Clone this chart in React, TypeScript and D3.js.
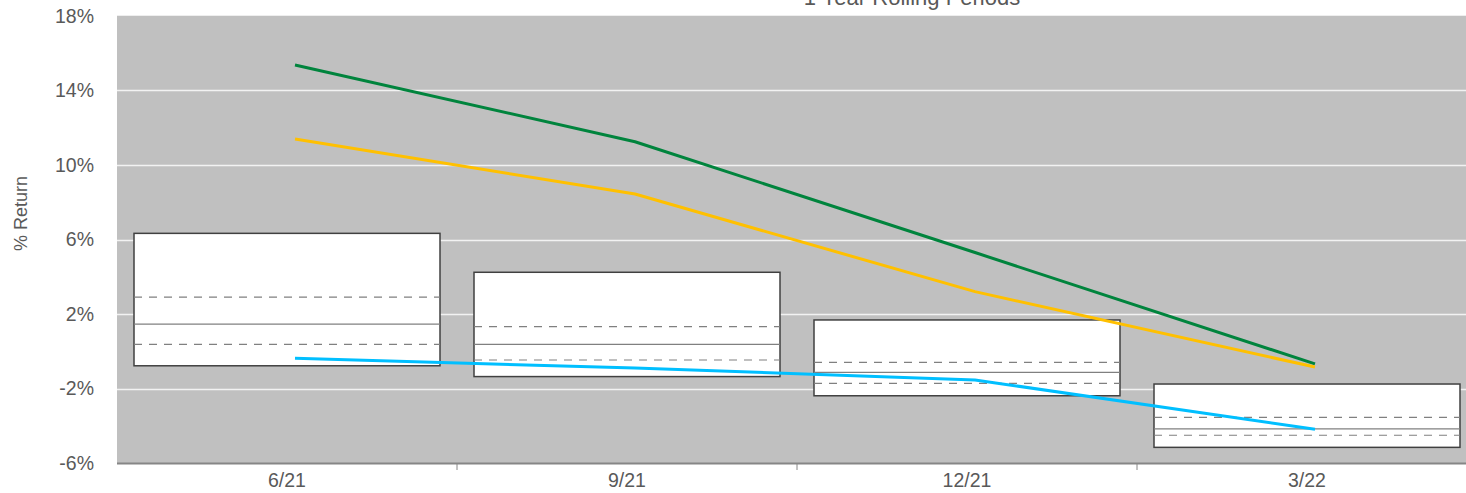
import React from "react";
import * as d3 from "d3";

const categories = ["6/21", "9/21", "12/21", "3/22"];
const yTicks = [-6, -2, 2, 6, 10, 14, 18];

// box ranges (percent)
const boxTop = [6.33, 4.24, 1.68, -1.76];
const boxUpperQ = [2.91, 1.32, -0.6, -3.55];
const boxMedian = [1.46, 0.37, -1.13, -4.17];
const boxLowerQ = [0.37, -0.47, -1.72, -4.51];
const boxBottom = [-0.78, -1.36, -2.39, -5.16];

// series
const greenSeries = [15.37, 11.25, 5.3, -0.68];
const orangeSeries = [11.4, 8.44, 3.2, -0.85];
const cyanSeries = [-0.38, -0.9, -1.54, -4.19];

const title = "1 Year Rolling Periods";
const yTitle = "% Return";

const W = 1466;
const H = 493;
const FONT = "'Liberation Sans', Arial, Helvetica, sans-serif";

export default function App() {
  const left = 117;
  const top = 16;
  const bottom = 463;
  const x = d3
    .scaleBand<string>()
    .domain(categories)
    .range([left, left + 1360])
    .paddingInner(0.1)
    .paddingOuter(0.05);
  const step = x.step();
  const y = d3.scaleLinear().domain([-6, 18]).range([bottom, top]);
  const lineOffset = 8;
  const cx = (c: string) => (x(c) as number) + x.bandwidth() / 2;
  const line = d3
    .line<number>()
    .x((_, i) => cx(categories[i]) + lineOffset)
    .y((d) => y(d));

  const series = [
    { vals: greenSeries, color: "#00843D" },
    { vals: orangeSeries, color: "#FFC000" },
    { vals: cyanSeries, color: "#00BFFF" },
  ];

  return (
    <svg
      width={W}
      height={H}
      style={{ position: "absolute", left: 0, top: 0, background: "#fff" }}
    >
      <rect x={left} y={top} width={W - left} height={bottom - top} fill="#C0C0C0" />
      <line x1={left} x2={W} y1={top - 0.5} y2={top - 0.5} stroke="#eeeeee" strokeWidth={1} />
      {yTicks
        .filter((t) => t !== -6 && t !== 18)
        .map((t) => (
          <line
            key={t}
            x1={left}
            x2={W}
            y1={Math.round(y(t)) + 0.5}
            y2={Math.round(y(t)) + 0.5}
            stroke="#F2F2F2"
            strokeWidth={1.5}
          />
        ))}
      {yTicks.map((t) => (
        <text
          key={t}
          x={94}
          y={y(t)}
          dy="0.35em"
          textAnchor="end"
          fontFamily={FONT}
          fontSize={19.5}
          fill="#595959"
        >
          {t}%
        </text>
      ))}
      <text
        transform={`translate(27,${(top + bottom) / 2 - 26}) rotate(-90)`}
        textAnchor="middle"
        fontFamily={FONT}
        fontSize={18}
        fill="#595959"
      >
        {yTitle}
      </text>
      <text
        x={912}
        y={5}
        textAnchor="middle"
        fontFamily={FONT}
        fontSize={22}
        fill="#595959"
      >
        {title}
      </text>

      {categories.map((c, i) => {
        const bx = x(c) as number;
        const bw = x.bandwidth();
        return (
          <g key={c}>
            <rect
              x={bx}
              y={y(boxTop[i])}
              width={bw}
              height={y(boxBottom[i]) - y(boxTop[i])}
              fill="#ffffff"
              stroke="#404040"
              strokeWidth={1.5}
            />
            <line
              x1={bx}
              x2={bx + bw}
              y1={y(boxMedian[i])}
              y2={y(boxMedian[i])}
              stroke="#808080"
              strokeWidth={1.2}
            />
            {[boxUpperQ[i], boxLowerQ[i]].map((v, k) => (
              <line
                key={k}
                x1={bx}
                x2={bx + bw}
                y1={y(v)}
                y2={y(v)}
                stroke="#808080"
                strokeWidth={1.2}
                strokeDasharray="8,7"
              />
            ))}
          </g>
        );
      })}

      {series.map((s, i) => (
        <path
          key={i}
          d={line(s.vals) as string}
          fill="none"
          stroke={s.color}
          strokeWidth={3}
          strokeLinejoin="round"
        />
      ))}

      <line x1={left} x2={W} y1={bottom + 0.5} y2={bottom + 0.5} stroke="#868686" strokeWidth={2} />
      {categories.slice(1).map((c) => (
        <line
          key={c}
          x1={(x(c) as number) - (step - x.bandwidth()) / 2}
          x2={(x(c) as number) - (step - x.bandwidth()) / 2}
          y1={bottom}
          y2={bottom + 7}
          stroke="#868686"
          strokeWidth={1}
        />
      ))}
      {categories.map((c) => (
        <text
          key={c}
          x={cx(c)}
          y={487}
          textAnchor="middle"
          fontFamily={FONT}
          fontSize={19.5}
          fill="#595959"
        >
          {c}
        </text>
      ))}
    </svg>
  );
}
